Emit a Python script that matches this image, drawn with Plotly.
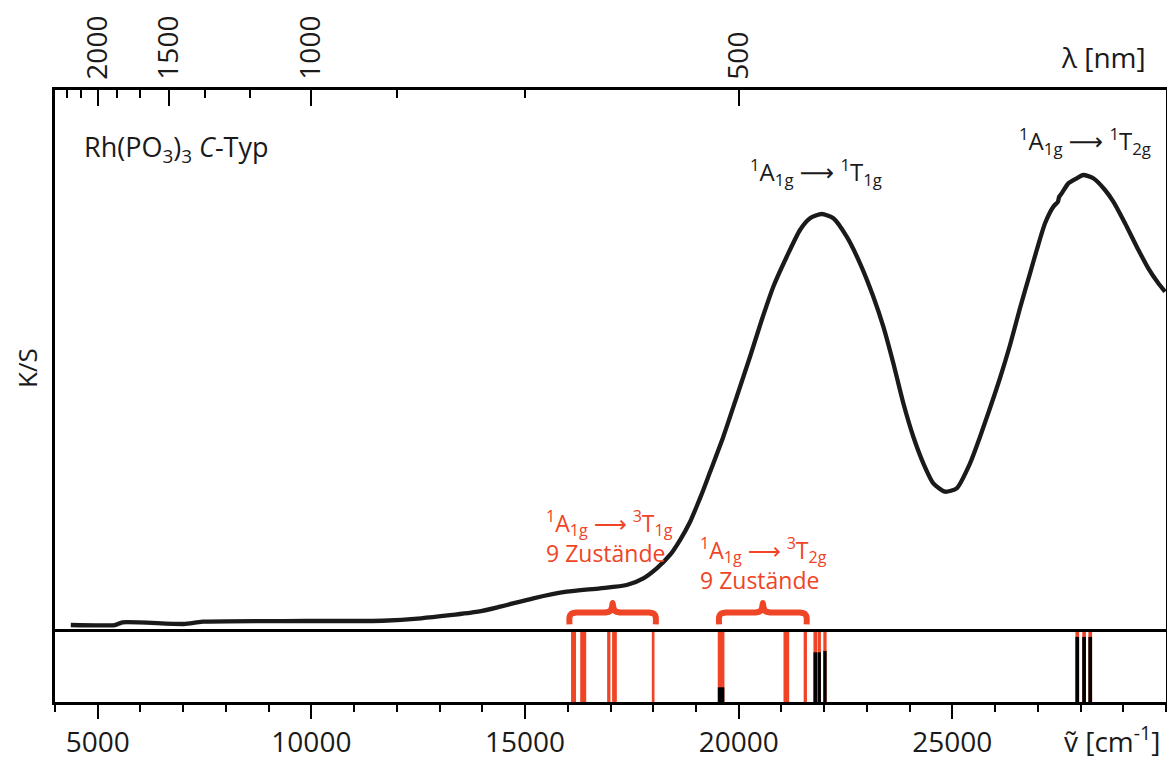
import plotly.graph_objects as go

# ---------------- data ----------------
# diffuse reflectance spectrum (K/S, arbitrary units) vs wavenumber [cm^-1]
wavenumber = [4370, 5400, 5580, 7012, 7459, 9874, 11669, 12565, 13899, 14414,
              15194, 15975, 16755, 17379, 17768, 18082, 18393, 18627, 18861, 19018,
              19172, 19329, 19640, 19954, 20265, 20539, 20810, 21124, 21435, 21669,
              21943, 22215, 22528, 22839, 23151, 23385, 23619, 23853, 24087, 24321,
              24555, 24828, 25102, 25414, 25648, 25882, 26116, 26350, 26584, 26818,
              26975, 27169, 27363, 27470, 27500, 27560, 27714, 27911, 28065, 28299,
              28573, 28767, 29041, 29315, 29586, 29821, 29977]
ks = [1.29, 1.29, 1.79, 1.48, 1.90, 2.03, 2.08, 2.53, 3.75, 4.67,
      6.22, 7.44, 8.06, 8.67, 9.91, 11.75, 14.21, 16.97, 20.3, 23.2,
      26.2, 29.5, 36.03, 43.41, 50.79, 57.56, 63.71, 69.24, 74.17, 76.33,
      77.12, 76.33, 72.93, 68.03, 61.86, 56.33, 49.58, 42.20, 36.03, 31.13,
      27.44, 25.89, 26.51, 31.13, 36.03, 41.33, 46.86, 52.95, 59.78, 66.18,
      70.48, 75.41, 78.47, 79.40, 80.30, 80.94, 82.78, 83.71, 84.32, 83.71,
      81.55, 79.39, 75.41, 71.09, 67.10, 64.34, 62.79]

# calculated transitions (lower panel): spin-forbidden (red) and spin-allowed (black)
red_sticks = [16135, 16361, 16960, 17093, 17998, 19588, 21115, 21559,
              21793, 21886, 22019, 27923, 28083, 28227]
black_sticks = [19588, 21793, 21886, 22019, 27923, 28083, 28227]
black_heights = [0.21, 0.71, 0.71, 0.73, 0.93, 0.93, 0.93]

# groups marked with braces (cm^-1)
brace_ranges = [(16040, 18060), (19540, 21590)]

bottom_ticks = [5000, 10000, 15000, 20000, 25000]
top_labels_nm = [2000, 1500, 1000, 500]
top_minor_nm = [2333.33, 2166.67, 1833.33, 1666.67, 1333.33, 1166.67, 833.33, 666.67]

# ---------------- styles ----------------
RED = "#EF4426"
INK = "#1a1a1a"
FONT = "Open Sans"
ARROW = '<span style="font-family:DejaVu Sans">⟶</span>'
red_widths = [5, 6, 3.3, 4.7, 2.7, 6.7, 5.7, 3.3, 3.7, 3.3, 3.3, 3.7, 3.7, 3.7]
black_widths = [6.5, 3.7, 3.3, 3.3, 3.7, 3.7, 3.7]

W, H = 1167, 758
ML, MR, MT, MB = 55, 1, 90, 56
PW, PH = W - ML - MR, H - MT - MB
SEP_PX = 632
low_top = (H - MB - SEP_PX) / PH


def px_x(px):
    return (px - ML) / PW


def px_y(py):
    return (H - MB - py) / PH


fig = go.Figure()

# spectrum
fig.add_trace(go.Scatter(x=wavenumber, y=ks, mode="lines", xaxis="x", yaxis="y",
                         line=dict(color=INK, width=4.3, shape="spline", smoothing=0.6),
                         hoverinfo="skip", showlegend=False))


def brace(a, b):
    c = (a + b) / 2
    xs = [a, a, a + 40, a + 160, c - 170, c - 60, c - 15, c, c + 15, c + 60, c + 170,
          b - 160, b - 40, b, b]
    ys = [1.4, 2.7, 3.35, 3.6, 3.6, 3.85, 4.6, 5.35, 4.6, 3.85, 3.6, 3.6, 3.35, 2.7, 1.4]
    return xs, ys


for a, b in brace_ranges:
    bx, by = brace(a, b)
    fig.add_trace(go.Scatter(x=bx, y=by, mode="lines", xaxis="x", yaxis="y",
                             line=dict(color=RED, width=6, shape="spline", smoothing=0.5),
                             hoverinfo="skip", showlegend=False))

# sticks
for xv, wd in zip(red_sticks, red_widths):
    fig.add_trace(go.Scatter(x=[xv, xv], y=[0, 1], mode="lines", xaxis="x", yaxis="y2",
                             line=dict(color=RED, width=wd), hoverinfo="skip",
                             showlegend=False))
for xv, hv, wd in zip(black_sticks, black_heights, black_widths):
    fig.add_trace(go.Scatter(x=[xv, xv], y=[0, hv], mode="lines", xaxis="x", yaxis="y2",
                             line=dict(color="black", width=wd), hoverinfo="skip",
                             showlegend=False))

# a trace on the top axis so it is drawn
fig.add_trace(go.Scatter(x=[4000, 30000], y=[None, None], xaxis="x2", yaxis="y",
                         mode="lines", hoverinfo="skip", showlegend=False))

axis_font = dict(family=FONT, size=28, color=INK)

fig.update_layout(
    width=W, height=H,
    margin=dict(l=ML, r=MR, t=MT, b=MB, autoexpand=False),
    paper_bgcolor="white", plot_bgcolor="white",
    font=dict(family=FONT, color=INK),
    showlegend=False,
    xaxis=dict(range=[4000, 30000], domain=[0, 1], anchor="y2", automargin=False,
               showline=True, linecolor="black", linewidth=2.5, mirror=True,
               showgrid=False, zeroline=False,
               tickmode="array", tickvals=bottom_ticks,
               ticktext=[str(t) for t in bottom_ticks],
               ticks="outside", ticklen=14, tickwidth=2, tickcolor="black",
               ticklabelstandoff=0, tickfont=axis_font,
               minor=dict(dtick=1000, tick0=0, ticks="outside", ticklen=7,
                          tickwidth=2, tickcolor="black", showgrid=False)),
    xaxis2=dict(range=[4000, 30000], overlaying="x", side="top", anchor="y",
                automargin=False,
                showline=True, linecolor="black", linewidth=2.5,
                showgrid=False, zeroline=False,
                tickmode="array", tickvals=[1e7 / l for l in top_labels_nm],
                ticktext=[str(l) for l in top_labels_nm],
                ticks="inside", ticklen=16, tickwidth=2, tickcolor="black",
                tickangle=-90, tickfont=axis_font, ticklabelstandoff=2,
                minor=dict(tickmode="array", tickvals=[1e7 / l for l in top_minor_nm],
                           ticks="inside", ticklen=8, tickwidth=2, tickcolor="black",
                           showgrid=False)),
    yaxis=dict(domain=[low_top, 1], range=[0, 100], anchor="x", automargin=False,
               showline=True, linecolor="black", linewidth=2.5, mirror=True,
               showgrid=False, zeroline=False, showticklabels=False, ticks=""),
    yaxis2=dict(domain=[0, low_top], range=[0, 1], anchor="x", automargin=False,
                showline=True, linecolor="black", linewidth=2.5, mirror=True,
                showgrid=False, zeroline=False, showticklabels=False, ticks=""),
)

ann = []


def label(text, px, py, size, color=INK, xanchor="left", angle=0, align="left"):
    ann.append(dict(text=text, x=px_x(px), y=px_y(py), xref="paper", yref="paper",
                    xanchor=xanchor, yanchor="middle", showarrow=False, align=align,
                    textangle=angle, font=dict(family=FONT, size=size, color=color)))


label("Rh(PO<sub>3</sub>)<sub>3</sub> <i>C</i>-Typ", 82, 148, 27)
label(f"<sup>1</sup>A<sub>1g</sub> {ARROW} <sup>1</sup>T<sub>1g</sub>", 748, 172, 24)
label(f"<sup>1</sup>A<sub>1g</sub> {ARROW} <sup>1</sup>T<sub>2g</sub>", 1017, 141, 24)
label(f"<sup>1</sup>A<sub>1g</sub> {ARROW} <sup>3</sup>T<sub>1g</sub><br>9 Zustände",
      544, 537, 23, RED)
label(f"<sup>1</sup>A<sub>1g</sub> {ARROW} <sup>3</sup>T<sub>2g</sub><br>9 Zustände",
      698, 564, 23, RED)
label("K/S", 27, 368, 26, angle=-90, xanchor="center")
label("λ [nm]", 1148, 57, 28, xanchor="right")
label("ṽ [cm<sup>-1</sup>]", 1162, 739, 28, xanchor="right")

fig.update_layout(annotations=ann)

fig.write_html("out.html")
